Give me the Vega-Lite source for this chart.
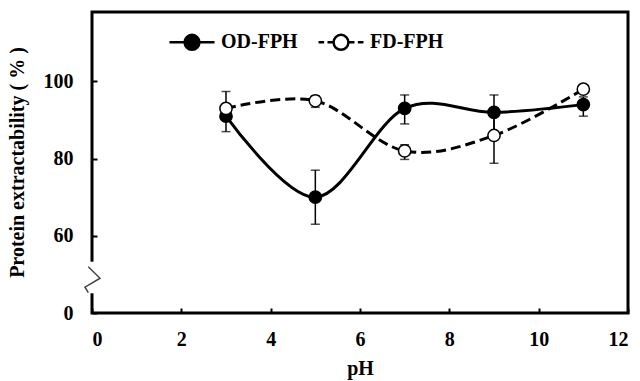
{
  "$schema": "https://vega.github.io/schema/vega-lite/v6.json",
  "autosize": "none",
  "width": 536,
  "height": 301,
  "padding": {"left": 92, "top": 12, "right": 12, "bottom": 68},
  "background": "white",
  "config": {
    "view": {"stroke": "black", "strokeWidth": 3},
    "axis": {
      "domain": false,
      "grid": false,
      "tickColor": "black",
      "tickWidth": 2,
      "tickSize": -5,
      "labelFont": "Liberation Serif",
      "labelFontSize": 20,
      "labelFontWeight": "bold",
      "labelColor": "black",
      "titleFont": "Liberation Serif",
      "titleFontSize": 20,
      "titleFontWeight": "bold",
      "titleColor": "black"
    }
  },
  "datasets": {
    "main": [
      {"pH": 3, "series": "OD-FPH", "value": 91, "lo": 87, "hi": 97.4},
      {"pH": 5, "series": "OD-FPH", "value": 70, "lo": 63, "hi": 77},
      {"pH": 7, "series": "OD-FPH", "value": 93, "lo": 89, "hi": 96.5},
      {"pH": 9, "series": "OD-FPH", "value": 92, "lo": 87, "hi": 96.5},
      {"pH": 11, "series": "OD-FPH", "value": 94, "lo": 91, "hi": 96},
      {"pH": 3, "series": "FD-FPH", "value": 93, "lo": null, "hi": null},
      {"pH": 5, "series": "FD-FPH", "value": 95, "lo": 93.3, "hi": 96.3},
      {"pH": 7, "series": "FD-FPH", "value": 82, "lo": 79.8, "hi": 83.6},
      {"pH": 9, "series": "FD-FPH", "value": 86, "lo": 78.8, "hi": 93},
      {"pH": 11, "series": "FD-FPH", "value": 98, "lo": null, "hi": null}
    ],
    "brk": [
      {"i": 0, "x": -0.083, "y": 52.0},
      {"i": 1, "x": 0.179, "y": 49.0},
      {"i": 2, "x": -0.157, "y": 46.7},
      {"i": 3, "x": -0.083, "y": 45.3}
    ],
    "gap": [{"x": 0, "y": 45.1, "y2": 53.3}]
  },
  "encoding": {
    "x": {"type": "quantitative", "scale": {"domain": [0, 12], "nice": false}, "title": "pH", "axis": {"values": [0, 2, 4, 6, 8, 10, 12], "labelPadding": 21, "labelBaseline": "top", "titleY": 55, "titleBaseline": "middle"}},
    "y": {"type": "quantitative", "scale": {"domain": [40, 118], "nice": false, "zero": false}, "title": "Protein extractability ( % )", "axis": {"values": [40, 60, 80, 100], "labelExpr": "datum.value == 40 ? '0' : datum.label", "labelPadding": 24, "titleAngle": 270, "titleX": -75, "titleY": 150, "titleAlign": "center", "titleBaseline": "middle"}}
  },
  "layer": [
    {
      "data": {"name": "gap"},
      "mark": {"type": "rule", "color": "white", "strokeWidth": 6},
      "encoding": {
        "x": {"field": "x"},
        "y": {"field": "y"},
        "y2": {"field": "y2"}
      }
    },
    {
      "data": {"name": "brk"},
      "mark": {"type": "line", "color": "#444444", "strokeWidth": 1.5},
      "encoding": {
        "x": {"field": "x"},
        "y": {"field": "y"},
        "order": {"field": "i"}
      }
    },
    {
      "data": {"name": "main"},
      "transform": [{"filter": "isValid(datum.lo)"}],
      "mark": {"type": "errorbar", "ticks": {"size": 9, "thickness": 1.5, "color": "black"}, "rule": {"strokeWidth": 1.5, "color": "black"}},
      "encoding": {
        "x": {"field": "pH"},
        "y": {"field": "lo"},
        "y2": {"field": "hi"}
      }
    },
    {
      "data": {"name": "main"},
      "transform": [{"filter": "datum.series === 'OD-FPH'"}],
      "mark": {"type": "line", "interpolate": "cardinal", "color": "black", "strokeWidth": 3},
      "encoding": {
        "x": {"field": "pH"},
        "y": {"field": "value"}
      }
    },
    {
      "data": {"name": "main"},
      "transform": [{"filter": "datum.series === 'FD-FPH'"}],
      "mark": {"type": "line", "interpolate": "cardinal", "color": "black", "strokeWidth": 3, "strokeDash": [10, 5]},
      "encoding": {
        "x": {"field": "pH"},
        "y": {"field": "value"}
      }
    },
    {
      "data": {"name": "main"},
      "mark": {"type": "point", "shape": "circle", "filled": true, "size": 150, "stroke": "black", "strokeWidth": 1.5, "opacity": 1},
      "encoding": {
        "x": {"field": "pH"},
        "y": {"field": "value"},
        "fill": {
          "field": "series", "type": "nominal",
          "scale": {"domain": ["OD-FPH", "FD-FPH"], "range": ["black", "white"]},
          "legend": {
            "orient": "none", "legendX": 76, "legendY": 6, "direction": "horizontal", "title": null,
            "symbolSize": 2025, "symbolStrokeWidth": 2.5, "symbolStrokeColor": "black", "symbolOpacity": 1,
            "labelFont": "Liberation Serif", "labelFontSize": 20, "labelFontWeight": "bold", "labelColor": "black",
            "labelOffset": 5, "columnPadding": 15,
            "encode": {"symbols": {"update": {"shape": {"signal": "datum.value === 'OD-FPH' ? 'M-1,0H1M-0.33,0A0.33,0.33,0,1,1,0.33,0A0.33,0.33,0,1,1,-0.33,0Z' : 'M-1,0H-0.75M-0.6,0H-0.33M0.33,0H0.6M0.75,0H1M-0.33,0A0.33,0.33,0,1,1,0.33,0A0.33,0.33,0,1,1,-0.33,0Z'"}, "stroke": {"value": "black"}, "strokeWidth": {"value": 2.5}}}}
          }
        }
      }
    }
  ]
}
